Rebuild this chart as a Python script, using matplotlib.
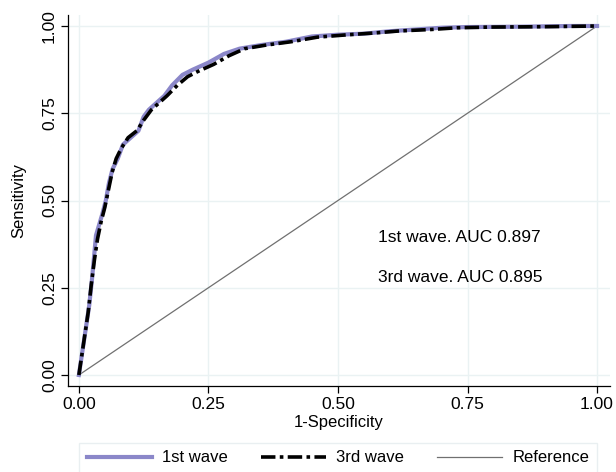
import numpy as np
import matplotlib
matplotlib.use("Agg")
import matplotlib.pyplot as plt

plt.rcParams['font.family'] = ['Liberation Sans', 'DejaVu Sans']

# ROC points (1-specificity, sensitivity)
fpr_w1 = [0, 0.005, 0.012, 0.02, 0.025, 0.03, 0.033, 0.037, 0.045, 0.052, 0.058,
          0.065, 0.075, 0.085, 0.1, 0.115, 0.125, 0.135, 0.15, 0.165, 0.18, 0.2,
          0.22, 0.25, 0.28, 0.31, 0.35, 0.4, 0.45, 0.5, 0.55, 0.6, 0.65, 0.7,
          0.75, 0.85, 0.95, 1.0]
tpr_w1 = [0, 0.05, 0.12, 0.2, 0.27, 0.35, 0.40, 0.42, 0.46, 0.50, 0.55,
          0.59, 0.62, 0.66, 0.68, 0.70, 0.74, 0.76, 0.78, 0.80, 0.83, 0.86,
          0.875, 0.895, 0.92, 0.935, 0.945, 0.955, 0.97, 0.975, 0.978, 0.985,
          0.99, 0.995, 0.997, 0.998, 1.0, 1.0]

fpr_w3 = [0, 0.004, 0.01, 0.018, 0.024, 0.03, 0.036, 0.043, 0.05, 0.057, 0.064,
          0.072, 0.082, 0.095, 0.112, 0.125, 0.14, 0.155, 0.17, 0.19, 0.21,
          0.23, 0.26, 0.29, 0.32, 0.36, 0.41, 0.46, 0.52, 0.57, 0.62, 0.68,
          0.73, 0.8, 0.9, 1.0]
tpr_w3 = [0, 0.04, 0.1, 0.18, 0.26, 0.33, 0.39, 0.44, 0.48, 0.53, 0.58,
          0.62, 0.65, 0.68, 0.70, 0.73, 0.76, 0.78, 0.80, 0.83, 0.855,
          0.87, 0.89, 0.915, 0.935, 0.945, 0.955, 0.968, 0.975, 0.98, 0.986,
          0.99, 0.995, 0.997, 0.998, 1.0]

ref_line = [0, 1]
ticks = [0, 0.25, 0.5, 0.75, 1.0]
tick_labels = ['0.00', '0.25', '0.50', '0.75', '1.00']
auc_text = ['1st wave. AUC 0.897', '3rd wave. AUC 0.895']
legend_labels = ['1st wave', '3rd wave', 'Reference']

fig = plt.figure(figsize=(6.16, 4.72), dpi=100)
ax = fig.add_axes([68/616, 86/472, 542/616, 371/472])

ax.plot(fpr_w1, tpr_w1, color='#8b87c9', lw=3.0, label=legend_labels[0],
        solid_joinstyle='round', zorder=3)
ax.plot(fpr_w3, tpr_w3, color='black', lw=2.6, ls=(0, (4, 1.2, 1, 1.2)),
        label=legend_labels[1], zorder=4)
ax.plot(ref_line, ref_line, color='#707070', lw=0.9, label=legend_labels[2], zorder=2)

ax.set_xlim(-0.021, 1.025)
ax.set_ylim(-0.0315, 1.0315)
ax.set_xticks(ticks)
ax.set_xticklabels(tick_labels)
ax.set_yticks(ticks)
ax.set_yticklabels(tick_labels, rotation=90, va='center')
ax.grid(True, color='#eaf2f3', lw=1.0)
ax.set_axisbelow(True)
for s in ['top', 'right']:
    ax.spines[s].set_visible(False)
for s in ['left', 'bottom']:
    ax.spines[s].set_linewidth(0.9)
ax.tick_params(direction='out', length=5, width=0.9, labelsize=12.5, color='black', pad=3)
ax.set_xlabel('1-Specificity', fontsize=12, labelpad=2)
ax.set_ylabel('Sensitivity', fontsize=12, labelpad=11)

ax.text(0.577, 0.393, auc_text[0], fontsize=12.5, va='center', ha='left')
ax.text(0.577, 0.278, auc_text[1], fontsize=12.5, va='center', ha='left')

leg = fig.legend(loc='upper left', bbox_to_anchor=(79/616, 29/472, 518/616, 0),
                 mode='expand', ncol=3, fontsize=12, frameon=True, fancybox=False,
                 handlelength=3.9, handletextpad=0.65, borderaxespad=0, borderpad=0.45)
leg.get_frame().set_edgecolor('#e4ecee')
leg.get_frame().set_linewidth(1.0)

fig.savefig('out.png', dpi=100)
